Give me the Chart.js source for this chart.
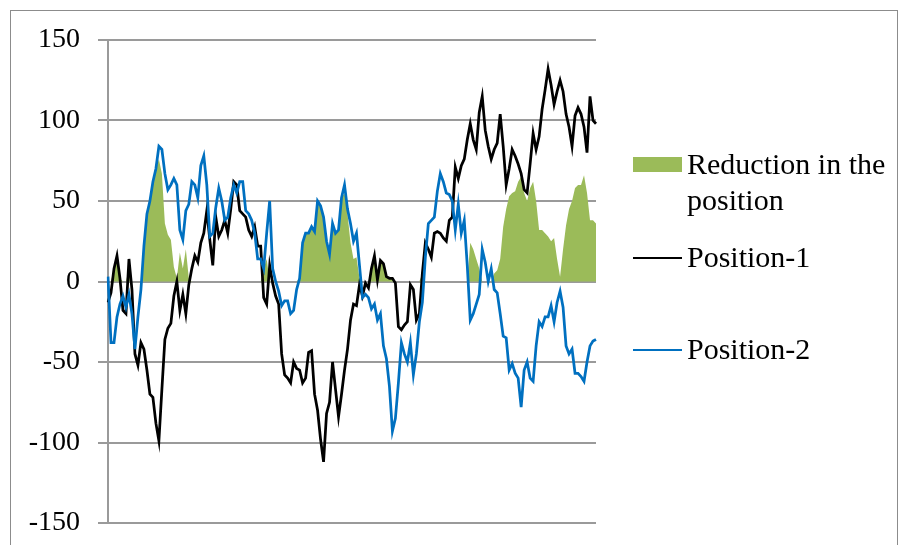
<!DOCTYPE html>
<html>
<head>
<meta charset="utf-8">
<script src="https://cdn.jsdelivr.net/npm/chart.js@4.4.1/dist/chart.umd.min.js"></script>
<style>
  html, body { margin: 0; padding: 0; background: #fff; }
  body { width: 900px; height: 545px; position: relative; overflow: hidden; font-family: "Liberation Serif", "Times New Roman", serif; }
  #frame { position: absolute; left: 10px; top: 10px; width: 886px; height: 560px; border: 1px solid #8c8c8c; }
  #wrap { position: absolute; left: 0; top: 0; width: 900px; height: 545px; }
  .lg { position: absolute; font-size: 30px; color: #000; line-height: 36px; white-space: nowrap; }
  .sw { position: absolute; }
</style>
</head>
<body>
<div id="frame"></div>
<div id="wrap"><canvas id="chart" width="900" height="545"></canvas></div>

<div class="sw" style="left:633px;top:157px;width:49px;height:15px;background:#9bbb59"></div>
<div class="lg" style="left:687px;top:146px">Reduction in the<br>position</div>
<div class="sw" style="left:633px;top:257px;width:49px;height:2px;background:#000"></div>
<div class="lg" style="left:687px;top:239px">Position-1</div>
<div class="sw" style="left:633px;top:349px;width:49px;height:2px;background:#0070c0"></div>
<div class="lg" style="left:687px;top:331px">Position-2</div>

<script>
// values, one point every ~3 px along the axis
const position1 = [
  -13, -7, 8, 16, 2, -18, -20, 14, -5, -45, -52, -38, -42, -55, -70, -72, -88, -99, -67, -36,
  -29, -26, -9, 0, -18, -8, -20, -2, 8, 16, 12, 24, 30, 44, 26, 10, 40, 28, 32, 38,
  30, 45, 62, 60, 44, 42, 40, 32, 28, 34, 22, 22, -10, -14, 10, -1, -9, -14, -45, -58,
  -60, -63, -50, -54, -55, -63, -60, -44, -43, -70, -80, -98, -112, -82, -75, -50, -67, -84, -70, -55,
  -42, -24, -14, -15, -2, -9, -1, -4, 8, 16, 1, 13, 11, 3, 2, 2, -1, -28, -30, -27,
  -25, -2, -5, -24, -20, 5, 24, 20, 15, 30, 31, 30, 27, 25, 38, 40, 71, 64, 72, 76,
  88, 98, 88, 82, 105, 115, 94, 84, 76, 82, 86, 104, 84, 60, 70, 82, 78, 73, 67, 57,
  55, 73, 92, 82, 90, 107, 119, 132, 122, 110, 118, 125, 118, 104, 96, 84, 103, 108, 104, 96,
  80, 115, 100, 98
];

const position2 = [
  3, -38, -38, -22, -14, -9, -16, -8, -20, -42, -22, -5, 22, 42, 50, 62, 70, 84, 82, 67,
  57, 60, 64, 60, 32, 26, 44, 48, 62, 60, 52, 72, 78, 60, 28, 30, 46, 58, 50, 38,
  40, 52, 60, 55, 62, 62, 44, 42, 38, 30, 14, 14, 8, 30, 50, 8, 0, -6, -15, -12,
  -12, -20, -18, -5, 2, 24, 30, 30, 34, 31, 50, 47, 40, 25, 17, 36, 30, 32, 52, 60,
  45, 36, 25, 30, 10, -10, -8, -10, -17, -14, -24, -20, -40, -48, -65, -93, -85, -63, -38, -45,
  -50, -38, -58, -45, -25, -13, 15, 36, 38, 40, 56, 67, 62, 55, 54, 50, 32, 48, 30, 38,
  10, -24, -20, -14, -8, 20, 12, 0, 8, -5, -7, -20, -34, -35, -55, -51, -57, -60, -78, -55,
  -50, -60, -62, -40, -25, -28, -22, -22, -15, -25, -13, -6, -16, -40, -45, -42, -57, -57, -59, -62,
  -50, -40, -37, -36
];

const reduction = [
  0, 0, 8, 14, 2, 0, 0, 8, 0, 0, 0, 0, 22, 42, 50, 62, 70, 76, 67, 36,
  29, 26, 9, 2, 18, 8, 20, 2, 0, 0, 0, 0, 0, 0, 0, 0, 0, 0, 0, 0,
  0, 0, 0, 0, 0, 0, 0, 0, 0, 0, 0, 0, 8, 14, 0, 1, 0, 0, 0, 0,
  0, 0, 0, 0, 2, 24, 30, 30, 34, 31, 50, 47, 40, 25, 17, 36, 30, 32, 52, 55,
  42, 24, 14, 15, 2, 0, 0, 0, 8, 14, 1, 13, 11, 3, 2, 2, 0, 0, 0, 0,
  0, 0, 0, 0, 0, 5, 0, 0, 0, 0, 0, 0, 0, 0, 0, 0, 0, 0, 0, 0,
  0, 24, 20, 14, 8, 0, 0, 0, 0, 5, 7, 14, 34, 45, 53, 55, 56, 62, 65, 55,
  50, 58, 62, 50, 32, 32, 30, 28, 25, 27, 14, 3, 20, 35, 45, 50, 58, 60, 60, 66,
  55, 38, 38, 36
];

const labels = position1.map((_, i) => i + 1);
const yTicks = [-150, -100, -50, 0, 50, 100, 150];

const ctx = document.getElementById('chart').getContext('2d');
new Chart(ctx, {
  type: 'line',
  data: {
    labels: labels,
    datasets: [
      {
        label: 'Position-2',
        data: position2,
        borderColor: '#0070c0',
        borderWidth: 2.75,
        pointRadius: 0,
        fill: false,
        tension: 0,
        order: 0
      },
      {
        label: 'Position-1',
        data: position1,
        borderColor: '#000000',
        borderWidth: 2.75,
        pointRadius: 0,
        fill: false,
        tension: 0,
        order: 1
      },
      {
        label: 'Reduction in the position',
        data: reduction,
        borderWidth: 0,
        borderColor: 'rgba(0,0,0,0)',
        backgroundColor: '#9bbb59',
        pointRadius: 0,
        fill: 'origin',
        tension: 0,
        order: 2
      }
    ]
  },
  options: {
    responsive: false,
    animation: false,
    events: [],
    layout: { padding: { left: 0, top: 40, right: 304, bottom: 22 } },
    plugins: {
      legend: { display: false },
      tooltip: { enabled: false }
    },
    scales: {
      x: {
        offset: false,
        ticks: { display: false },
        grid: { display: false, drawTicks: false },
        border: { display: false },
        afterFit: s => { s.height = 0; s.paddingLeft = 0; s.paddingRight = 0; }
      },
      y: {
        min: -150,
        max: 150,
        afterBuildTicks: s => { s.ticks = yTicks.map(v => ({ value: v })); },
        ticks: {
          color: '#000',
          padding: 18,
          font: { family: "'Liberation Serif', 'Times New Roman', serif", size: 28 }
        },
        grid: { color: '#9a9a9a', lineWidth: 2, tickLength: 10, drawTicks: true },
        border: { color: '#9a9a9a', width: 2 },
        afterFit: s => { s.width = 108; s.paddingTop = 0; s.paddingBottom = 0; }
      }
    }
  }
});
</script>
</body>
</html>
